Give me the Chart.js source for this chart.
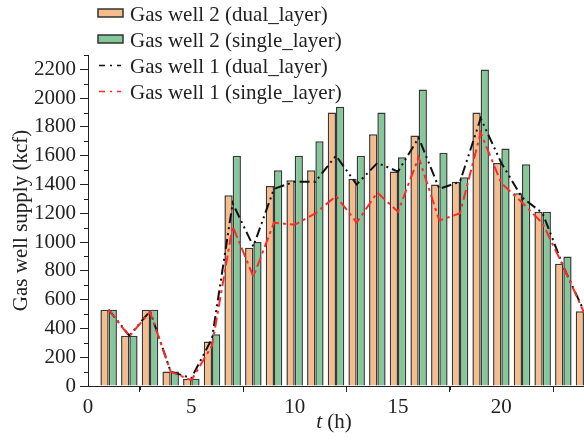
<!DOCTYPE html>
<html>
<head>
<meta charset="utf-8">
<script src="https://cdn.jsdelivr.net/npm/chart.js@4/dist/chart.umd.min.js"></script>
<style>
  html, body { margin: 0; padding: 0; background: #fff; }
  #wrap { width: 584px; height: 445px; }
</style>
</head>
<body>
<div id="wrap"><canvas id="c" width="584" height="445"></canvas></div>
<script>
// ---- data ----
const hours = [1,2,3,4,5,6,7,8,9,10,11,12,13,14,15,16,17,18,19,20,21,22,23,24];
const well2Dual   = [530,350,530,100,50,310,1325,960,1390,1430,1500,1900,1440,1750,1490,1740,1400,1420,1900,1550,1340,1210,850,520];
const well2Single = [530,350,530,100,50,360,1600,1000,1500,1600,1700,1940,1600,1900,1590,2060,1620,1450,2200,1650,1540,1210,900,null];
const well1Dual   = [530,350,520,100,55,330,1270,970,1370,1420,1420,1600,1400,1550,1490,1725,1370,1420,1860,1550,1310,1200,830,520];
const well1Single = [530,345,515,100,40,280,1110,760,1135,1120,1200,1320,1135,1345,1210,1590,1150,1200,1760,1410,1275,1130,830,510];
const seriesNames = ['Gas well 2 (dual_layer)','Gas well 2 (single_layer)','Gas well 1 (dual_layer)','Gas well 1 (single_layer)'];
const xTicks = [0,5,10,15,20];
const yTicks = [0,200,400,600,800,1000,1200,1400,1600,1800,2000,2200];

const toXY = arr => hours.map((h,i) => ({x: h, y: arr[i]}));
const FONT = '"Liberation Serif", "DejaVu Serif", serif';

const minorTicks = {
  id: 'minorTicks',
  afterDraw(chart) {
    const ctx = chart.ctx, xs = chart.scales.x, ys = chart.scales.y;
    ctx.save();
    ctx.strokeStyle = '#222';
    ctx.lineWidth = 1;
    ctx.beginPath();
    for (let v = 100; v <= 2300; v += 200) {
      const py = Math.round(ys.getPixelForValue(v)) + 0.5;
      ctx.moveTo(xs.left - 4, py); ctx.lineTo(xs.left, py);
    }
    for (let t = 2.5; t < 24; t += 5) {
      const px = Math.round(xs.getPixelForValue(t)) + 0.5;
      ctx.moveTo(px, ys.bottom); ctx.lineTo(px, ys.bottom + 4);
    }
    ctx.stroke();
    // x axis title with italic t
    ctx.fillStyle = '#222';
    ctx.textBaseline = 'alphabetic';
    const cx = (xs.left + xs.right) / 2 - 2;
    ctx.font = 'italic 21px ' + FONT;
    const wT = ctx.measureText('t').width;
    ctx.font = '21px ' + FONT;
    const wR = ctx.measureText(' (h)').width;
    const x0 = cx - (wT + wR) / 2;
    ctx.font = 'italic 21px ' + FONT;
    ctx.fillText('t', x0, 428);
    ctx.font = '21px ' + FONT;
    ctx.fillText(' (h)', x0 + wT, 428);
    ctx.restore();
  }
};

const customLegend = {
  id: 'customLegend',
  afterDraw(chart) {
    const ctx = chart.ctx;
    const ds = chart.data.datasets;
    ctx.save();
    ctx.font = '21px ' + FONT;
    ctx.fillStyle = '#222';
    ctx.textBaseline = 'alphabetic';
    const baselines = [21, 47, 73, 99];
    ds.forEach((d, i) => {
      const b = baselines[i];
      const cy = b - 8;
      if (d.type === 'line') {
        ctx.save();
        ctx.strokeStyle = d.borderColor;
        ctx.lineWidth = 1.5;
        ctx.setLineDash([6, 5, 2, 5]);
        ctx.beginPath();
        ctx.moveTo(99, cy + 0.5); ctx.lineTo(121, cy + 0.5);
        ctx.stroke();
        ctx.restore();
      } else {
        ctx.fillStyle = d.backgroundColor;
        ctx.fillRect(98, cy - 4, 25, 8);
        ctx.strokeStyle = '#333';
        ctx.lineWidth = 1.5;
        ctx.strokeRect(98, cy - 4, 25, 8);
      }
      ctx.fillStyle = '#222';
      ctx.fillText(d.label, 130, b);
    });
    ctx.restore();
  }
};

new Chart(document.getElementById('c'), {
  type: 'bar',
  data: {
    datasets: [
      { type: 'bar', label: seriesNames[0], data: toXY(well2Dual), backgroundColor: '#f6bd8c', borderColor: '#383838', borderWidth: 1.5, order: 2,
        categoryPercentage: 0.8, barPercentage: 1.0 },
      { type: 'bar', label: seriesNames[1], data: toXY(well2Single), backgroundColor: '#84c798', borderColor: '#383838', borderWidth: 1.5, order: 2,
        categoryPercentage: 0.8, barPercentage: 1.0 },
      { type: 'line', label: seriesNames[2], data: toXY(well1Dual), borderColor: '#111111', borderWidth: 2, borderDash: [10,4,2,4,2,4],
        pointRadius: 0, tension: 0, fill: false, order: 1 },
      { type: 'line', label: seriesNames[3], data: toXY(well1Single), borderColor: '#ff2a2a', borderWidth: 2, borderDash: [10,4,3,4],
        pointRadius: 0, tension: 0, fill: false, order: 0 }
    ]
  },
  options: {
    responsive: false,
    animation: false,
    devicePixelRatio: 1,
    layout: { padding: { top: 55, right: 0, bottom: 0, left: 0 } },
    plugins: { legend: { display: false }, tooltip: { enabled: false } },
    scales: {
      x: {
        type: 'linear', min: 0, max: 24, offset: false,
        afterBuildTicks: s => { s.ticks = xTicks.map(v => ({value: v})); },
        afterFit: s => { s.height = 59; },
        ticks: { font: { family: FONT, size: 21 }, color: '#222', padding: 3, maxRotation: 0,
                 callback: v => String(v) },
        grid: { display: true, drawOnChartArea: false, drawTicks: true, tickLength: 6, color: '#222' },
        border: { display: true, color: '#222', width: 1 },
        title: { display: false }
      },
      y: {
        type: 'linear', min: 0, max: 2300,
        afterBuildTicks: s => { s.ticks = yTicks.map(v => ({value: v})); },
        afterFit: s => { s.width = 88; },
        ticks: { font: { family: FONT, size: 21 }, color: '#222', padding: 4,
                 callback: v => String(v) },
        grid: { display: true, drawOnChartArea: false, drawTicks: true, tickLength: 8, color: '#222' },
        border: { display: true, color: '#222', width: 1 },
        title: { display: true, text: 'Gas well supply (kcf)', font: { family: FONT, size: 21 }, color: '#222', padding: { top: 9, bottom: 0 } }
      }
    }
  },
  plugins: [minorTicks, customLegend]
});
</script>
</body>
</html>
